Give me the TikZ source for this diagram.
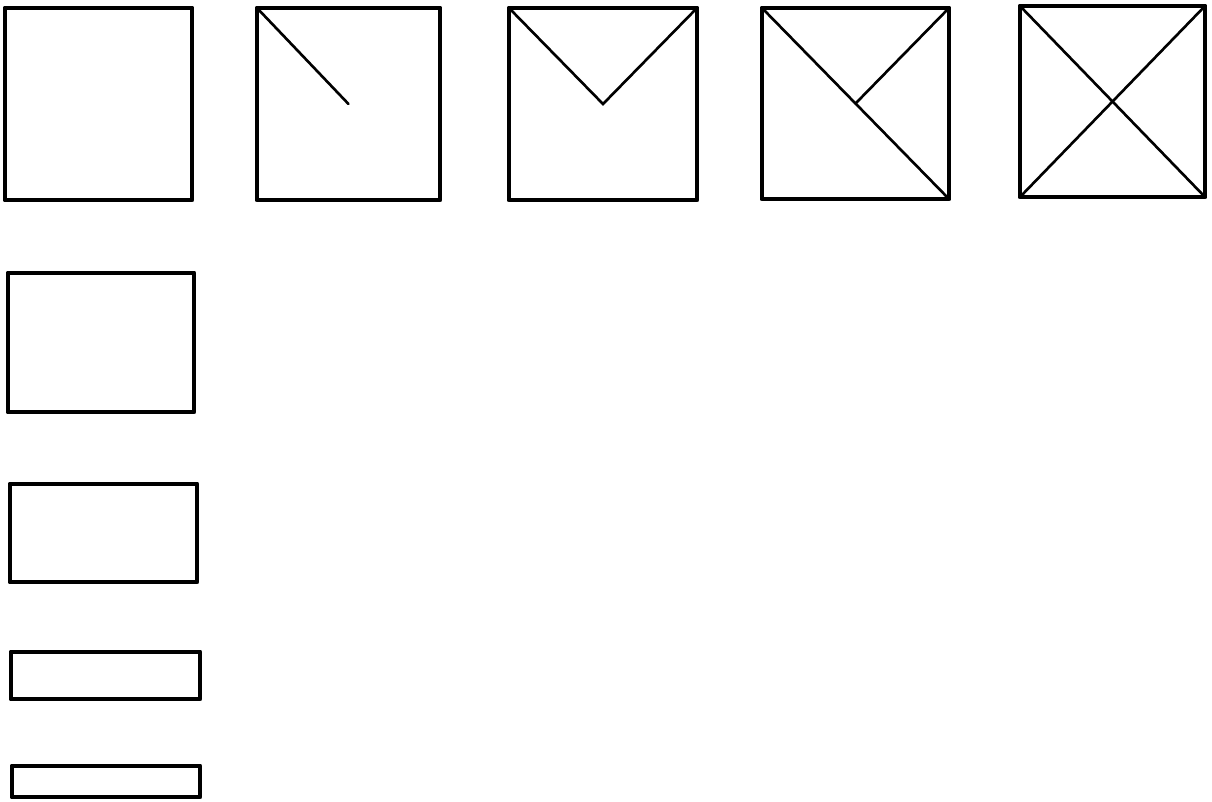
\documentclass[tikz,border=0pt]{standalone}
\usepackage{tikz}
\usetikzlibrary{calc}
\usetikzlibrary{positioning}

\begin{document}
\begin{tikzpicture}[x=0.02cm, y=-0.02cm,
    frame/.style={line width=2.8pt, line join=round},
    cut/.style={line width=1.5pt, line cap=round}]
        \useasboundingbox (0,0) rectangle (1212,801);
        % 上面一排: 五个方框
        \path 
        (5,8)    coordinate (a1)  (192,200) coordinate (b1)
        (257,8)  coordinate (a2)  (440,200) coordinate (b2)
        (509,8)  coordinate (a3)  (697,200) coordinate (b3)
        (762,8)  coordinate (a4)  (949,199) coordinate (b4)
        (1020,6) coordinate (a5)  (1205,197) coordinate (b5)
        ;
        % 左边一列: 越来越扁的长方形
        \path 
        (8,273)  coordinate (a6)  (194,412) coordinate (b6)
        (10,484) coordinate (a7)  (197,582) coordinate (b7)
        (11,652) coordinate (a8)  (200,699) coordinate (b8)
        (12,766) coordinate (a9)  (200,797) coordinate (b9)
        ;
        \foreach \i in {1,...,9}
            \draw[frame] (a\i) rectangle (b\i);

        % 中心点和角
        \foreach \i in {2,3,4,5} {
            \path (a\i) coordinate (tl\i)
                  (b\i) coordinate (br\i)
                  (a\i -| b\i) coordinate (tr\i)
                  (a\i |- b\i) coordinate (bl\i)
                  ($(a\i)!0.5!(b\i)$) coordinate (c\i);
        }
        \draw[cut] (tl2) -- (c2);
        \draw[cut] (tl3) -- (c3) -- (tr3);
        \draw[cut] (tl4) -- (br4);
        \draw[cut] (tr4) -- (c4);
        \draw[cut] (tl5) -- (br5);
        \draw[cut] (tr5) -- (bl5);
\end{tikzpicture}
\end{document}
